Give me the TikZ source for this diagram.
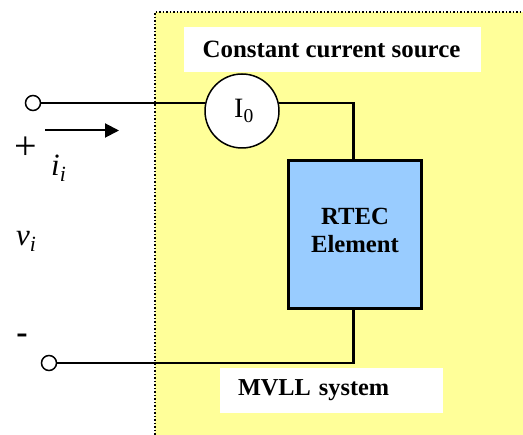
\documentclass[tikz,border=0pt]{standalone}
\usepackage{fontspec}
\setmainfont{Liberation Serif}
\usetikzlibrary{arrows.meta}
\definecolor{sysyellow}{HTML}{FFFF99}
\definecolor{elemblue}{HTML}{99CCFF}
\tikzset{
  wire/.style={draw=black,line width=2.3pt},
  terminal/.style={circle,draw=black,fill=white,line width=1.5pt,minimum size=15pt,inner sep=0pt},
  labelbox/.style={fill=white,inner sep=0pt,font=\bfseries\fontsize{24.9}{28}\selectfont},
  mathlabel/.style={inner sep=0pt,font=\fontsize{31}{34}\selectfont}
}
\begin{document}
\begin{tikzpicture}[x=1pt,y=-1pt]
\useasboundingbox (0,0) rectangle (523,435);
\fill[sysyellow] (155,12) rectangle (523,435);
\draw[black,line width=1.5pt,dotted] (155,435) -- (155,12) -- (523,12);
\node[labelbox,minimum width=297pt,minimum height=45pt] (title) at (332.5,49.5) {\hspace*{-2pt}\raisebox{-2pt}{Constant current source}};
\node[labelbox,minimum width=223pt,minimum height=45pt,text width=187pt,align=left,font=\bfseries\fontsize{24.3}{28}\selectfont] (sys) at (331.5,390.5) {\raisebox{-1pt}{MVLL system}};
\node[circle,draw=black,fill=white,line width=1.5pt,minimum size=74pt,inner sep=0pt,font=\fontsize{28}{30}\selectfont] (src) at (242,111) {\hspace*{4pt}I\textsubscript{0}};
\node[draw=black,fill=elemblue,line width=3pt,minimum width=133.5pt,minimum height=148pt,inner sep=0pt,outer sep=0pt] (elem) at (355,235) {};
\node[font=\bfseries\fontsize{24.7}{28}\selectfont,align=center,inner sep=0pt] (elemtext) at (355,230.5) {RTEC\\Element};
\node[terminal] (t1) at (33,103) {};
\node[terminal] (t2) at (49,363) {};
\coordinate (corner) at (353.5,363);
\draw[wire] (t1.east) -- (t1.east-|src.167.5);
\draw[wire] (t1.east-|src.12.5) -| (elem.north-|corner);
\draw[wire] (t2.east) -- (corner) -- (elem.south-|corner);
\coordinate (a1) at (45,130.5);
\coordinate (a2) at (119,130.5);
\draw[line width=2pt,-{Triangle[length=14pt,width=14pt]}] (a1) -- (a2);
\node[inner sep=0pt,font=\fontsize{40}{42}\selectfont] (plus) at (25.5,148.5) {+};
\node[inner sep=0pt,font=\bfseries\fontsize{34}{36}\selectfont] (minus) at (22,338.5) {-};
\node[mathlabel,anchor=base west] (ii) at (51,176) {\textit{i}\textsubscript{\textit{i}}};
\node[mathlabel,anchor=base west] (vi) at (16,246) {\textit{v}\textsubscript{\textit{i}}};
\end{tikzpicture}
\end{document}
